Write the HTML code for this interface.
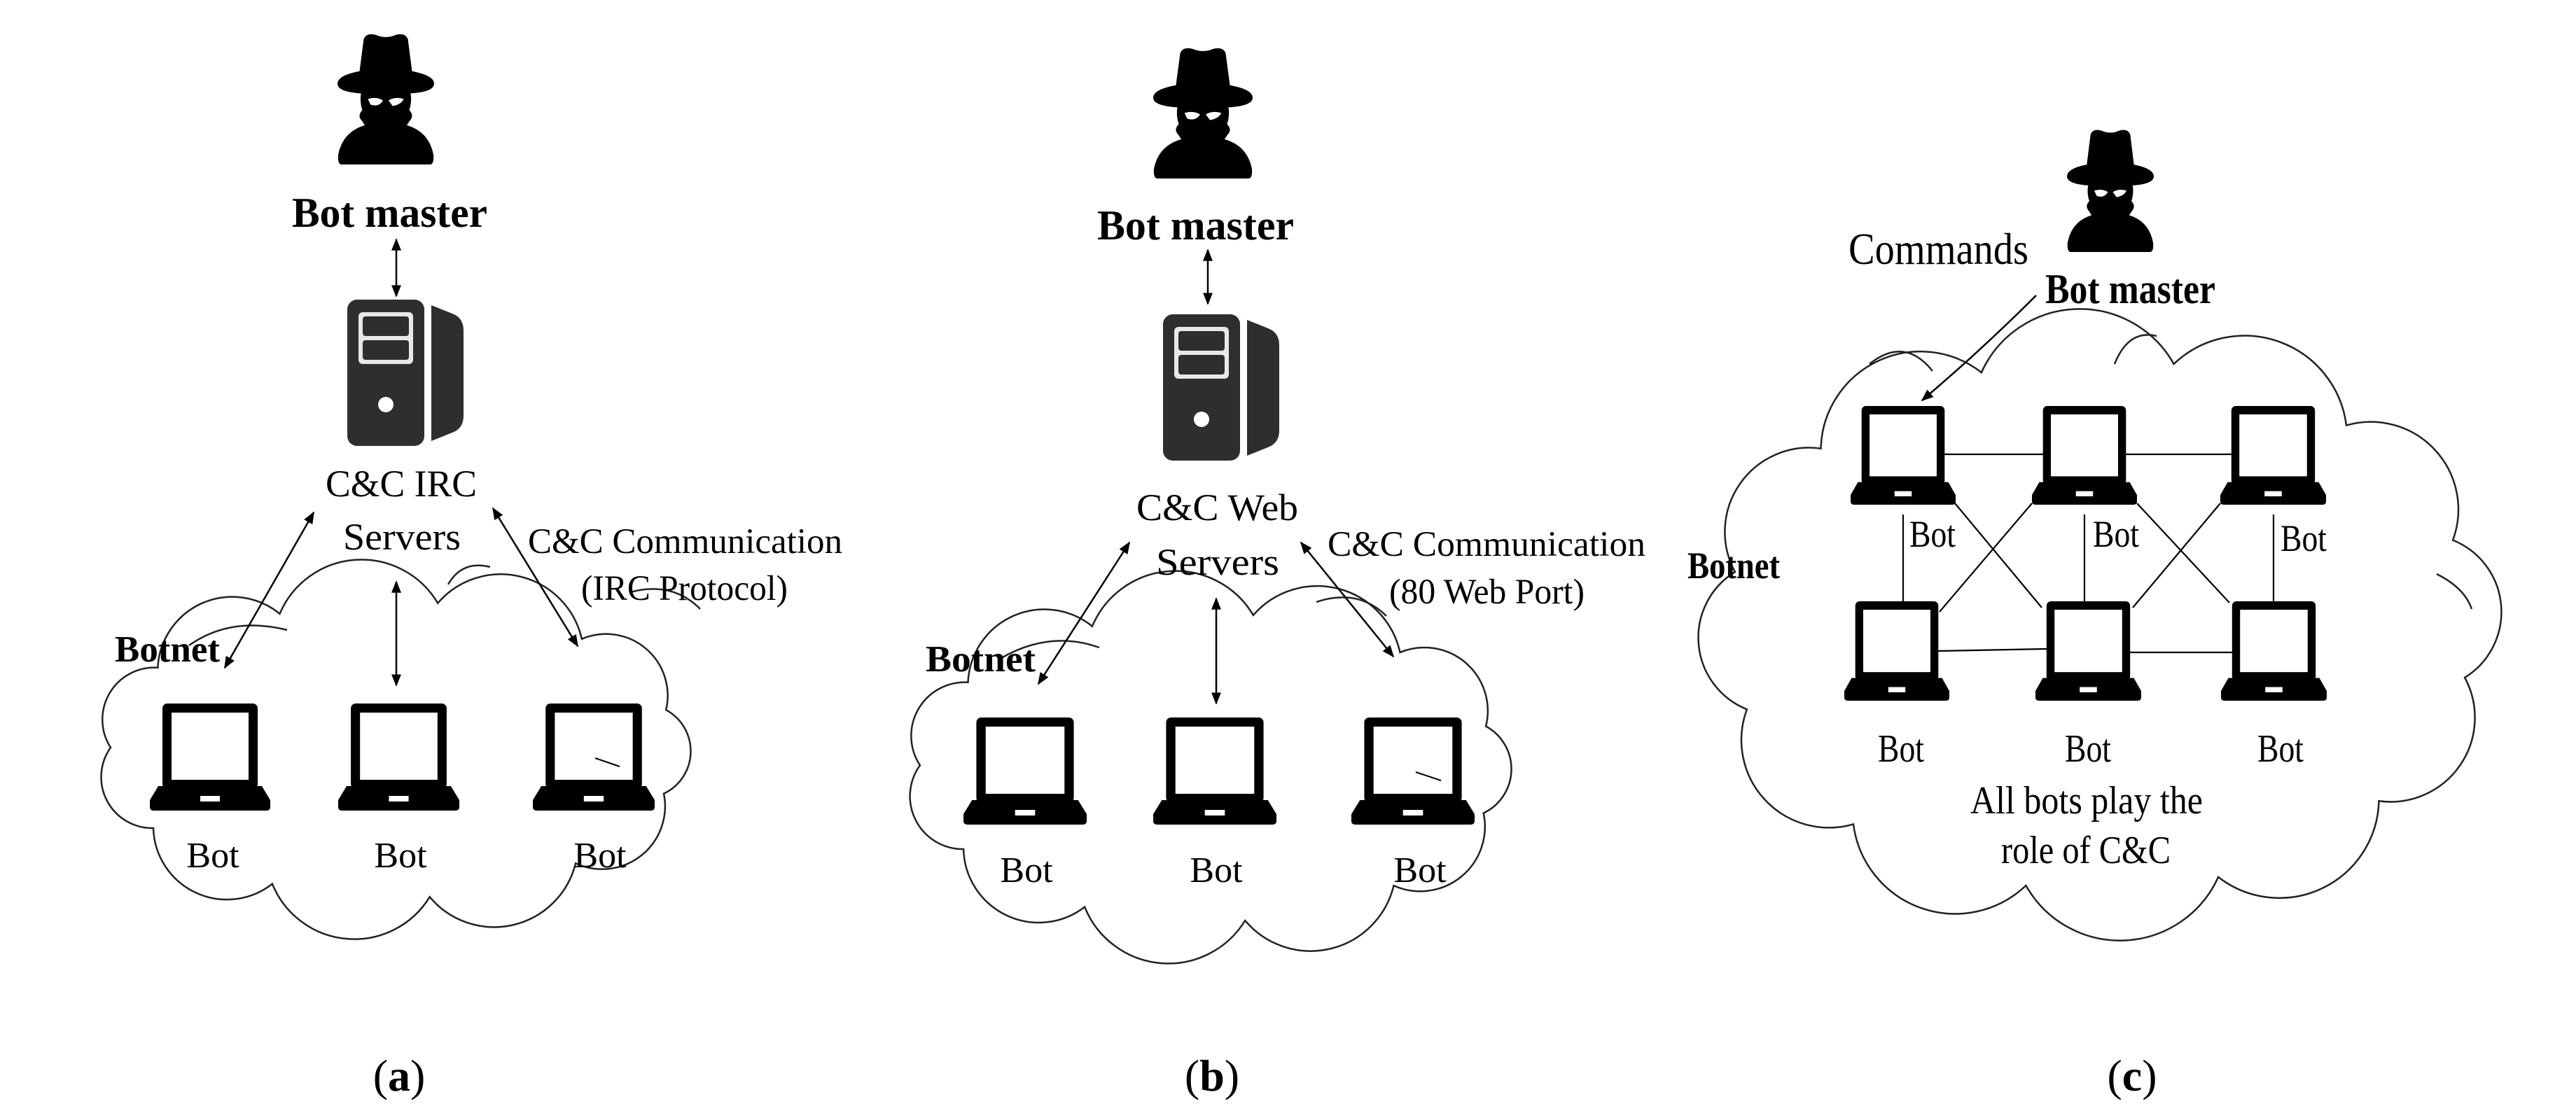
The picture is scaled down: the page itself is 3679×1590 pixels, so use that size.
<!DOCTYPE html>
<html><head><meta charset="utf-8">
<style>
html,body{margin:0;padding:0;background:#fff;}
svg{display:block;}
text{font-family:"Liberation Serif",serif;fill:#000;}
.b{font-weight:bold;}
</style></head>
<body>
<svg id="s" width="3679" height="1590" viewBox="0 0 3679 1590" xmlns="http://www.w3.org/2000/svg">
<defs>
<marker id="ah" viewBox="0 0 10 10" refX="9" refY="5" markerWidth="7" markerHeight="7" orient="auto-start-reverse" markerUnits="strokeWidth">
<path d="M0 1 L10 5 L0 9 Z" fill="#000"/>
</marker>
<symbol id="laptop" viewBox="0 0 172 153" preserveAspectRatio="none">
<rect x="18" y="0" width="136" height="122" rx="7" fill="#000"/>
<rect x="31" y="13" width="110" height="96" fill="#fff"/>
<path d="M12 118 H160 L172 138 V148 Q172 153 166 153 H6 Q0 153 0 148 V138 Z" fill="#000"/>
<rect x="72" y="132" width="28" height="8" fill="#fff"/>
</symbol>
<symbol id="server" viewBox="0 0 166 209" preserveAspectRatio="none">
<rect x="0" y="0" width="110" height="209" rx="14" fill="#2e2e2e"/>
<rect x="16" y="18" width="78" height="74" rx="6" fill="#e8e8e8"/>
<rect x="22" y="24" width="66" height="28" rx="4" fill="#2e2e2e"/>
<rect x="22" y="58" width="66" height="28" rx="4" fill="#2e2e2e"/>
<circle cx="55" cy="150" r="11" fill="#fff"/>
<path d="M120 8 L150 20 Q166 26 166 44 V166 Q166 184 150 190 L120 202 Z" fill="#2e2e2e"/>
</symbol>
<symbol id="hacker" viewBox="0 0 140 190" preserveAspectRatio="none">
<path d="M38 10 Q42 0 56 4 Q70 10 84 4 Q98 0 102 10 L108 56 Q140 62 140 74 Q140 86 104 88 H36 Q0 86 0 74 Q0 62 32 56 Z" fill="#000"/>
<path d="M34 88 H106 Q108 100 104 112 Q112 120 104 128 Q100 136 92 140 H48 Q40 136 36 128 Q28 120 36 112 Q32 100 34 88 Z" fill="#000"/>
<path d="M44 96 Q56 92 66 98 Q60 108 48 104 Z" fill="#fff"/>
<path d="M74 98 Q84 92 96 96 Q92 104 80 106 Z" fill="#fff"/>
<path d="M6 190 Q0 190 1 176 Q8 140 46 132 H94 Q132 140 139 176 Q140 190 134 190 Z" fill="#000"/>
</symbol>
</defs>

<g id="clouds" fill="none" stroke="#222" stroke-width="2.5"></g>
<g fill="none" stroke="#222" stroke-width="2.5">
<path d="M270 922 Q330 880 410 900"/>
<path d="M640 835 Q660 800 700 810"/>
<path d="M900 846 Q960 830 1000 870"/>
<path d="M1430 940 Q1500 900 1570 925"/>
<path d="M1880 860 Q1940 840 1980 880"/>
<path d="M2670 520 Q2720 480 2760 530"/>
<path d="M3020 520 Q3040 470 3080 480"/>
<path d="M3480 820 Q3520 840 3530 870"/>
</g>

<!-- Panel a -->
<use href="#hacker" x="482" y="46" width="138" height="189"/>
<text x="417" y="324" class="b" font-size="60" textLength="279" lengthAdjust="spacingAndGlyphs">Bot master</text>
<line x1="566" y1="342" x2="566" y2="423" stroke="#000" stroke-width="2.5" marker-start="url(#ah)" marker-end="url(#ah)"/>
<use href="#server" x="496" y="428" width="166" height="209"/>
<text x="465" y="709" font-size="54" textLength="216" lengthAdjust="spacingAndGlyphs">C&amp;C IRC</text>
<text x="490" y="785" font-size="54" textLength="168" lengthAdjust="spacingAndGlyphs">Servers</text>
<line x1="448" y1="732" x2="321" y2="954" stroke="#000" stroke-width="2.5" marker-start="url(#ah)" marker-end="url(#ah)"/>
<line x1="566" y1="831" x2="566" y2="979" stroke="#000" stroke-width="2.5" marker-start="url(#ah)" marker-end="url(#ah)"/>
<line x1="704" y1="726" x2="825" y2="923" stroke="#000" stroke-width="2.5" marker-start="url(#ah)" marker-end="url(#ah)"/>
<text x="754" y="790" font-size="51" textLength="449" lengthAdjust="spacingAndGlyphs">C&amp;C Communication</text>
<text x="830" y="857" font-size="51" textLength="295" lengthAdjust="spacingAndGlyphs">(IRC Protocol)</text>
<text x="164" y="945" class="b" font-size="53" textLength="150" lengthAdjust="spacingAndGlyphs">Botnet</text>
<use href="#laptop" x="214" y="1005" width="172" height="153"/>
<use href="#laptop" x="483" y="1005" width="173" height="153"/>
<use href="#laptop" x="761" y="1005" width="174" height="153"/>
<line x1="850" y1="1083" x2="885" y2="1095" stroke="#000" stroke-width="2"/>
<text x="304" y="1239" font-size="52" text-anchor="middle">Bot</text>
<text x="572" y="1239" font-size="52" text-anchor="middle">Bot</text>
<text x="857" y="1239" font-size="52" text-anchor="middle">Bot</text>
<text x="570" y="1558" font-size="64" text-anchor="middle">(<tspan class="b">a</tspan>)</text>

<!-- Panel b -->
<use href="#hacker" x="1647" y="66" width="142" height="189"/>
<text x="1567" y="342" class="b" font-size="60" textLength="281" lengthAdjust="spacingAndGlyphs">Bot master</text>
<line x1="1725" y1="357" x2="1725" y2="434" stroke="#000" stroke-width="2.5" marker-start="url(#ah)" marker-end="url(#ah)"/>
<use href="#server" x="1661" y="449" width="166" height="209"/>
<text x="1623" y="743" font-size="54" textLength="231" lengthAdjust="spacingAndGlyphs">C&amp;C Web</text>
<text x="1651" y="821" font-size="54" textLength="176" lengthAdjust="spacingAndGlyphs">Servers</text>
<line x1="1613" y1="775" x2="1483" y2="977" stroke="#000" stroke-width="2.5" marker-start="url(#ah)" marker-end="url(#ah)"/>
<line x1="1737" y1="855" x2="1737" y2="1005" stroke="#000" stroke-width="2.5" marker-start="url(#ah)" marker-end="url(#ah)"/>
<line x1="1858" y1="775" x2="1990" y2="938" stroke="#000" stroke-width="2.5" marker-start="url(#ah)" marker-end="url(#ah)"/>
<text x="1896" y="794" font-size="51" textLength="454" lengthAdjust="spacingAndGlyphs">C&amp;C Communication</text>
<text x="1984" y="862" font-size="51" textLength="279" lengthAdjust="spacingAndGlyphs">(80 Web Port)</text>
<text x="1322" y="959" class="b" font-size="53" textLength="157" lengthAdjust="spacingAndGlyphs">Botnet</text>
<use href="#laptop" x="1376" y="1025" width="176" height="153"/>
<use href="#laptop" x="1647" y="1025" width="176" height="153"/>
<use href="#laptop" x="1930" y="1025" width="176" height="153"/>
<line x1="2022" y1="1103" x2="2058" y2="1115" stroke="#000" stroke-width="2"/>
<text x="1466" y="1260" font-size="52" text-anchor="middle">Bot</text>
<text x="1737" y="1260" font-size="52" text-anchor="middle">Bot</text>
<text x="2028" y="1260" font-size="52" text-anchor="middle">Bot</text>
<text x="1731" y="1558" font-size="64" text-anchor="middle">(<tspan class="b">b</tspan>)</text>

<!-- Panel c -->
<use href="#hacker" x="2952" y="183" width="124" height="177"/>
<text x="2640" y="377" font-size="64" textLength="257" lengthAdjust="spacingAndGlyphs">Commands</text>
<text x="2921" y="433" class="b" font-size="60" textLength="243" lengthAdjust="spacingAndGlyphs">Bot master</text>
<path d="M2908 422 Q2830 500 2745 572" fill="none" stroke="#000" stroke-width="2.5" marker-end="url(#ah)"/>
<g stroke="#000" stroke-width="2.2">
<line x1="2777" y1="649" x2="2918" y2="649"/>
<line x1="3036" y1="649" x2="3187" y2="649"/>
<line x1="2718" y1="735" x2="2718" y2="859"/>
<line x1="2977" y1="735" x2="2977" y2="859"/>
<line x1="3247" y1="735" x2="3247" y2="859"/>
<line x1="2792" y1="719" x2="2916" y2="868"/>
<line x1="2902" y1="719" x2="2770" y2="874"/>
<line x1="3052" y1="719" x2="3184" y2="861"/>
<line x1="3171" y1="719" x2="3046" y2="868"/>
<line x1="2768" y1="930" x2="2923" y2="927"/>
<line x1="3042" y1="932" x2="3188" y2="932"/>
</g>
<use href="#laptop" x="2643" y="580" width="150" height="141"/>
<use href="#laptop" x="2902" y="580" width="150" height="141"/>
<use href="#laptop" x="3171" y="580" width="151" height="141"/>
<use href="#laptop" x="2634" y="859" width="150" height="142"/>
<use href="#laptop" x="2907" y="859" width="151" height="142"/>
<use href="#laptop" x="3172" y="859" width="151" height="142"/>
<text x="2727" y="781" font-size="54" textLength="66" lengthAdjust="spacingAndGlyphs">Bot</text>
<text x="2989" y="781" font-size="54" textLength="66" lengthAdjust="spacingAndGlyphs">Bot</text>
<text x="3257" y="787" font-size="54" textLength="66" lengthAdjust="spacingAndGlyphs">Bot</text>
<text x="2410" y="826" class="b" font-size="54" textLength="132" lengthAdjust="spacingAndGlyphs">Botnet</text>
<text x="2682" y="1088" font-size="56" textLength="66" lengthAdjust="spacingAndGlyphs">Bot</text>
<text x="2949" y="1088" font-size="56" textLength="66" lengthAdjust="spacingAndGlyphs">Bot</text>
<text x="3224" y="1088" font-size="56" textLength="66" lengthAdjust="spacingAndGlyphs">Bot</text>
<text x="2814" y="1162" font-size="56" textLength="332" lengthAdjust="spacingAndGlyphs">All bots play the</text>
<text x="2858" y="1233" font-size="56" textLength="242" lengthAdjust="spacingAndGlyphs">role of C&amp;C</text>
<text x="3045" y="1558" font-size="64" text-anchor="middle">(<tspan class="b">c</tspan>)</text>
</svg>
<script>
(function(){
  var g=document.getElementById('clouds');
  function cloud(x0,y0,x1,y1,n,bulge,phase){
    var cx=(x0+x1)/2, cy=(y0+y1)/2, rx=(x1-x0)/2, ry=(y1-y0)/2;
    var pts=[];
    for(var i=0;i<n;i++){
      var a=phase+2*Math.PI*i/n;
      pts.push([cx+rx*bulge*Math.cos(a), cy+ry*bulge*Math.sin(a)]);
    }
    var d='M'+pts[0][0].toFixed(1)+' '+pts[0][1].toFixed(1);
    for(var i=1;i<=n;i++){
      var p=pts[i%n], q=pts[i-1];
      var ch=Math.hypot(p[0]-q[0],p[1]-q[1]);
      var r=ch*0.56;
      d+=' A'+r.toFixed(1)+' '+r.toFixed(1)+' 0 0 1 '+p[0].toFixed(1)+' '+p[1].toFixed(1);
    }
    var path=document.createElementNS('http://www.w3.org/2000/svg','path');
    path.setAttribute('d',d+' Z');
    g.appendChild(path);
  }
  cloud(57,806,1067,1336,11,0.80,0.3);
  cloud(1211,821,2240,1372,11,0.80,0.3);
  cloud(2366,440,3632,1345,12,0.84,0.2);
})();
</script>
</body></html>
